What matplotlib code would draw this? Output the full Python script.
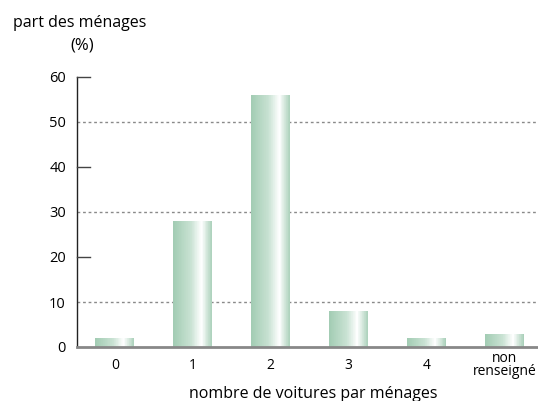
import matplotlib
matplotlib.use("Agg")
import matplotlib.pyplot as plt
import numpy as np
from matplotlib.colors import LinearSegmentedColormap

categories = ["0", "1", "2", "3", "4", "non\nrenseigné"]
values = [2, 28, 56, 8, 2, 3]
yticks = [0, 10, 20, 30, 40, 50, 60]

plt.rcParams['font.family'] = ['Open Sans', 'DejaVu Sans']

fig = plt.figure(figsize=(5.38, 4.01), dpi=100)
ax = fig.add_axes([77/538, 54/401, 460/538, 270/401])

cmap = LinearSegmentedColormap.from_list(
    "g", [(0.0, "#a2ccb3"), (0.45, "#c9e2d3"), (0.72, "#ffffff"), (1.0, "#a8cfb8")])
width = 0.5
nslices = 60
x = np.arange(len(categories))
bars = ax.bar(x, values, width=width, color="none", edgecolor="none", zorder=3)
for b in bars:
    x0, h = b.get_x(), b.get_height()
    sw = b.get_width() / nslices
    lefts = x0 + np.arange(nslices) * sw
    cols = cmap((np.arange(nslices) + 0.5) / nslices)
    ax.bar(lefts, [h] * nslices, width=sw * 1.05, align="edge", color=cols,
           edgecolor="none", linewidth=0, zorder=3)

ax.set_xlim(-0.487, 5.417)
ax.set_ylim(0, 60)

for g in [10, 30, 50]:
    ax.axhline(g, color="#8a8a8a", lw=1.0, ls=(0, (2, 2)), zorder=1)

ax.set_yticks(yticks)
ax.set_yticklabels([str(t) for t in yticks], fontsize=10.5)
ax.tick_params(axis="y", direction="in", length=0, pad=8)
for t in [20, 40, 60]:
    ax.plot([-0.487, -0.487 + 13/78], [t, t], color="#444444", lw=1, clip_on=False, zorder=4)
ax.set_xticks(x)
ax.set_xticklabels(categories, fontsize=10, linespacing=0.8)
ax.tick_params(axis="x", length=0, pad=13)
for t in ax.get_xticklabels():
    t.set_va("center")

for s in ["top", "right"]:
    ax.spines[s].set_visible(False)
ax.spines["left"].set_color("#222222")
ax.spines["left"].set_linewidth(1.0)
ax.spines["bottom"].set_color("#888888")
ax.spines["bottom"].set_linewidth(2.0)
ax.spines["bottom"].set_zorder(5)

fig.text(80/538, 1 - 23/401, "part des ménages", fontsize=11.5, ha="center", va="center")
fig.text(82/538, 1 - 46/401, "(%)", fontsize=12, ha="center", va="center")
fig.text(313/538, 1 - 394/401, "nombre de voitures par ménages", fontsize=11.5, ha="center", va="center")

fig.savefig("out.png", dpi=100)
